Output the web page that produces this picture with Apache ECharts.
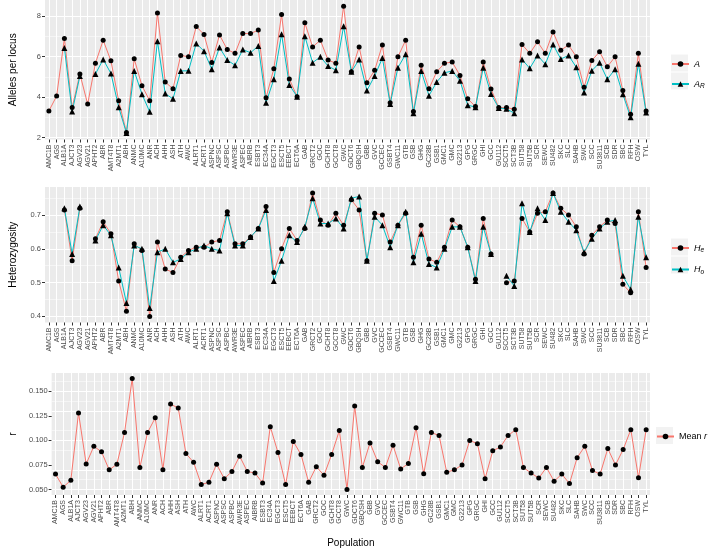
<!DOCTYPE html>
<html><head><meta charset="utf-8">
<script src="https://cdn.jsdelivr.net/npm/echarts@6/dist/echarts.min.js"></script>
<style>html,body{margin:0;padding:0;background:#fff}#c{width:709px;height:549px}</style>
</head><body><div id="c"></div>
<script>
const categories = ['AMC1B','AGS','ALB1A','AJCT3','AGV23','AGV21','APHT2','ABR','AMT4T8','A2MT1','ABH','ANMC','A10MC','ANR','ACH','AHH','ASH','ATH','AWC','ALRT1','ACRT1','ASPNC','ASPSC','ASPBC','AWR3E','ASPEC','AIBRB','ESBT3','EC34A','EGCT3','ESCT5','EEBCT','ECT6A','GAB','GRCT2','GOC','GCHT8','GCCT8','GWC','GDCT6','GBQSH','GBB','GVC','GCCEC','GSBT4','GWC11','GTB','GSB','GHG','GC28B','GSB1','GMC1','GMC','G2213','GPG','GRGC','GHI','GCC','GU112','SCCT5','SCT3B','SUT58','SUT5B','SCR','SEWC','SU482','SKC','SLC','SAHB','SWC','SCC','SU3811','SCB','SDR','SBC','RFH','OSW','TYL'];

const allelesA = [3.31,4.05,6.90,3.48,5.14,3.65,5.67,6.81,5.79,3.82,2.25,5.89,4.56,3.82,8.16,4.74,4.41,6.06,5.99,7.49,7.09,5.71,7.07,6.35,6.16,7.14,7.14,7.31,3.97,5.40,8.08,4.89,4.02,7.67,6.48,6.81,5.83,5.67,8.49,5.25,6.48,4.71,5.32,6.58,3.72,5.99,6.81,3.28,5.57,4.41,5.25,5.67,5.73,5.07,3.91,3.53,5.73,4.40,3.48,3.48,3.40,6.60,6.16,6.73,6.16,7.22,6.32,6.57,5.99,4.48,5.81,6.24,5.50,5.99,4.32,3.15,6.16,3.31];
const richnessAR = [null,null,6.43,3.28,5.04,null,5.14,5.86,5.17,3.50,2.22,5.29,4.14,3.27,6.76,4.17,3.91,5.29,5.30,6.65,6.27,5.38,6.45,5.83,5.57,6.35,6.19,6.53,3.72,4.88,7.11,4.60,4.02,7.01,5.70,5.99,5.53,5.33,7.50,5.25,5.86,4.32,5.04,5.93,3.66,5.45,6.12,3.20,5.29,4.07,4.74,5.20,5.29,4.81,3.60,3.50,5.45,4.15,3.46,3.42,3.20,5.86,5.42,6.06,5.62,6.60,5.88,6.06,5.47,4.22,5.30,5.70,4.88,5.38,4.14,3.00,5.65,3.23];
const hetHe = [null,null,0.715,0.565,0.72,null,0.63,0.68,0.645,0.505,0.415,0.615,0.595,0.40,0.62,0.54,0.53,0.575,0.595,0.605,0.605,0.62,0.625,0.71,0.615,0.615,0.635,0.66,0.725,0.53,0.60,0.66,0.625,0.66,0.765,0.685,0.67,0.705,0.67,0.745,0.715,0.565,0.705,0.70,0.62,0.67,0.705,0.575,0.67,0.57,0.56,0.605,0.685,0.665,0.605,0.51,0.69,0.585,null,0.50,0.505,0.69,0.65,0.705,0.71,0.765,0.72,0.70,0.665,0.585,0.64,0.665,0.685,0.675,0.495,0.47,0.71,0.545];
const hetHo = [null,null,0.72,0.585,0.725,null,0.625,0.67,0.64,0.545,0.44,0.61,0.60,0.425,0.59,0.60,0.56,0.57,0.59,0.60,0.61,0.60,0.595,0.705,0.61,0.61,0.635,0.66,0.715,0.505,0.565,0.64,0.62,0.665,0.75,0.675,0.675,0.69,0.66,0.75,0.755,0.565,0.695,0.67,0.605,0.67,0.71,0.56,0.645,0.555,0.545,0.60,0.665,0.665,0.605,0.505,0.665,0.585,null,0.52,0.49,0.735,0.65,0.72,0.685,0.765,0.71,0.68,0.655,0.59,0.63,0.66,0.68,0.685,0.52,0.48,0.695,0.575];
const meanR = [0.0657,0.0524,0.0594,0.128,0.076,0.094,0.0884,0.070,0.0757,0.108,0.163,0.0724,0.108,0.123,0.070,0.137,0.133,0.0867,0.0777,0.055,0.0574,0.0757,0.061,0.0684,0.084,0.0684,0.0667,0.0567,0.114,0.0877,0.055,0.099,0.0857,0.0574,0.0733,0.0644,0.0857,0.110,0.050,0.135,0.0724,0.0974,0.0784,0.0724,0.095,0.071,0.0764,0.113,0.066,0.108,0.105,0.0677,0.070,0.075,0.100,0.0967,0.061,0.0894,0.0934,0.105,0.111,0.0724,0.0667,0.0617,0.0724,0.0584,0.0657,0.056,0.0824,0.094,0.0694,0.0657,0.0917,0.075,0.0907,0.111,0.062,0.111];

const ticksA = [2,4,6,8];
const minorA = [3,5,7];
const ticksH = [0.4,0.5,0.6,0.7];
const minorH = [0.45,0.55,0.65,0.75];
const ticksR = [0.05,0.075,0.1,0.125,0.15];
const minorR = [0.0625,0.0875,0.1125,0.1375,0.1625];

const RED = '#F8766D', CYAN = '#00BFC4';
const FONT = '"Liberation Sans", Arial, Helvetica, sans-serif';

const panels = [
  {top: 0, height: 139.5, min: 1.9, max: 8.8, ticks: ticksA, minor: minorA, name: 'Alleles per locus', fmt: v => String(v)},
  {top: 187, height: 135.5, min: 0.382, max: 0.783, ticks: ticksH, minor: minorH, name: 'Heterozygosity', fmt: v => v.toFixed(1)},
  {top: 373, height: 124.3, min: 0.0444, max: 0.1687, ticks: ticksR, minor: minorR, name: 'r', fmt: v => v.toFixed(3)}
];

const grid = panels.map(p => ({left: 40, right: 59, top: p.top, height: p.height, show: true, backgroundColor: '#EBEBEB', borderWidth: 0}));

const xAxis = panels.map((p, k) => ({
  type: 'category', gridIndex: k, data: categories, boundaryGap: true,
  axisLine: {show: false},
  axisTick: {show: true, alignWithLabel: true, interval: 0, length: 3, lineStyle: {color: '#333', width: 1}},
  axisLabel: {interval: 0, rotate: 90, fontSize: 7, color: '#4D4D4D', margin: 5, fontFamily: FONT},
  splitLine: {show: true, interval: 0, alignWithLabel: true, lineStyle: {color: '#FFFFFF', width: 1}},
  name: k === 2 ? 'Population' : '', nameLocation: 'middle', nameGap: 43,
  nameTextStyle: {fontSize: 10, color: '#000', fontFamily: FONT}
}));

const yAxis = panels.map((p, k) => ({
  type: 'value', gridIndex: k, min: p.min, max: p.max,
  axisLine: {show: false},
  axisTick: {show: true, length: 3, customValues: p.ticks, lineStyle: {color: '#333'}},
  axisLabel: {customValues: p.ticks, formatter: p.fmt, fontSize: 7.5, color: '#4D4D4D', margin: 4, fontFamily: FONT},
  splitLine: {show: false},
  name: p.name, nameLocation: 'middle', nameGap: k === 2 ? 32 : 27,
  nameTextStyle: {fontSize: 10, color: '#000', fontFamily: FONT}
}));

function gridLines(p) {
  return {
    silent: true, z: 1, symbol: ['none', 'none'], label: {show: false}, animation: false,
    lineStyle: {color: '#FFFFFF', type: 'solid'},
    emphasis: {disabled: true},
    data: p.ticks.map(v => ({yAxis: v, lineStyle: {width: 1, color: '#FFFFFF', type: 'solid'}}))
      .concat(p.minor.map(v => ({yAxis: v, lineStyle: {width: 0.5, color: '#FFFFFF', type: 'solid'}})))
  };
}

function mk(name, data, k, color, symbol, size, withGrid) {
  const s = {
    name, type: 'line', xAxisIndex: k, yAxisIndex: k, data,
    symbol, symbolSize: size, showSymbol: true,
    lineStyle: {color, width: 1},
    itemStyle: {color: '#000'},
    animation: false, z: 3, connectNulls: false
  };
  if (withGrid) s.markLine = gridLines(panels[k]);
  return s;
}

const series = [
  mk('A', allelesA, 0, RED, 'circle', 5, true),
  mk('AR', richnessAR, 0, CYAN, 'triangle', 6, false),
  mk('He', hetHe, 1, RED, 'circle', 5, true),
  mk('Ho', hetHo, 1, CYAN, 'triangle', 6, false),
  mk('Mean r', meanR, 2, RED, 'circle', 5, true)
];

const labelMap = {'A': '{i|A}', 'AR': '{i|A}{s|R}', 'He': '{i|H}{s|e}', 'Ho': '{i|H}{s|o}', 'Mean r': '{n|Mean }{i|r}'};
const rich = {
  i: {fontStyle: 'italic', fontSize: 9, fontFamily: FONT, color: '#000'},
  s: {fontStyle: 'italic', fontSize: 6.5, fontFamily: FONT, color: '#000', padding: [5, 0, 0, 0]},
  n: {fontSize: 9, fontFamily: FONT, color: '#000'}
};
function legendOf(names, left, top) {
  return {
    data: names, orient: 'vertical', left, top, padding: 0,
    itemWidth: 17, itemHeight: 7, itemGap: 11,
    formatter: n => labelMap[n],
    textStyle: {fontSize: 9, fontFamily: FONT, color: '#000', rich},
    selectedMode: false
  };
}
const legend = [
  legendOf(['A', 'AR'], 671, 59.5),
  legendOf(['He', 'Ho'], 671, 243.5),
  legendOf(['Mean r'], 656, 432)
];

const keyBoxes = [[671, 63], [671, 81], [671, 247], [671, 265], [656, 435.5]].map(c => ({
  type: 'rect', left: c[0], top: c[1] - 8.5, shape: {width: 17, height: 17},
  style: {fill: '#F2F2F2'}, z: -1, silent: true
}));

const chart = echarts.init(document.getElementById('c'), null, {renderer: 'canvas'});
chart.setOption({
  animation: false,
  backgroundColor: '#FFFFFF',
  grid, xAxis, yAxis, series, legend,
  graphic: keyBoxes
});
</script></body></html>
